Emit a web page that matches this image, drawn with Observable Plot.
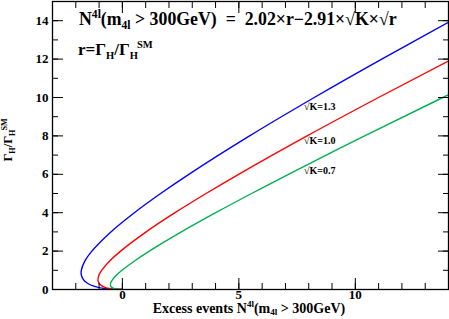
<!DOCTYPE html>
<html><head><meta charset="utf-8">
<script src="https://cdn.jsdelivr.net/npm/d3@7"></script>
<script src="https://cdn.jsdelivr.net/npm/@observablehq/plot@0.6"></script>
<style>
body{margin:0;background:#fff}
#chart{position:relative;width:449px;height:319px}
svg{display:block}
</style>
</head><body><div id="chart"></div>
<script>
// r = Gamma_H / Gamma_H^SM  (y) and excess events N (x)
const rValues   = [0, 0.01, 0.02, 0.03, 0.05, 0.1, 0.2, 0.3, 0.4, 0.5, 0.75, 1, 1.5, 2, 3, 4, 5, 6, 8, 10, 12, 14];
const nSqrtK13  = [0, -0.358, -0.495, -0.595, -0.745, -0.994, -1.288, -1.466, -1.585, -1.665, -1.761, -1.763, -1.603, -1.310, -0.493, 0.514, 1.641, 2.854, 5.460, 8.237, 11.135, 14.125];
const nSqrtK10  = [0, -0.271, -0.371, -0.443, -0.550, -0.718, -0.897, -0.988, -1.033, -1.048, -1.005, -0.890, -0.534, -0.075, 1.020, 2.260, 3.593, 4.992, 7.929, 10.998, 14.159, 17.392];
const nSqrtK07  = [0, -0.184, -0.248, -0.292, -0.354, -0.442, -0.507, -0.510, -0.480, -0.430, -0.249, -0.017, 0.535, 1.159, 2.532, 4.006, 5.545, 7.130, 10.399, 13.758, 17.184, 20.658];
const curveLabels = ["√K=1.3", "√K=1.0", "√K=0.7"];
const xMajorTicks = [0, 5, 10];
const xMinorTicks = [-3, -2, -1, 0, 1, 2, 3, 4, 5, 6, 7, 8, 9, 10, 11, 12, 13, 14];
const yMajorTicks = [0, 2, 4, 6, 8, 10, 12, 14];
const yMinorTicks = [0, 1, 2, 3, 4, 5, 6, 7, 8, 9, 10, 11, 12, 13, 14, 15];

const toRows = ns => rValues.map((r, i) => ({r, n: ns[i]}));
const FONT = "Liberation Serif";
const labelPos = [{x: 7.8, y: 9.33}, {x: 7.8, y: 7.56}, {x: 7.8, y: 6.01}];
const none = () => "";
const MINOR = 6, MAJOR = 11;

const plot = Plot.plot({
  width: 449, height: 319,
  marginLeft: 52, marginRight: 1, marginTop: 1, marginBottom: 30,
  style: {fontFamily: FONT, fontWeight: "bold", fontSize: "13px", background: "#fff"},
  x: {domain: [-3, 14]},
  y: {domain: [0, 15]},
  marks: [
    Plot.line(toRows(nSqrtK13), {x: "n", y: "r", stroke: "#0000ff", strokeWidth: 1.4, curve: "catmull-rom", clip: true}),
    Plot.line(toRows(nSqrtK10), {x: "n", y: "r", stroke: "#ff0000", strokeWidth: 1.4, curve: "catmull-rom", clip: true}),
    Plot.line(toRows(nSqrtK07), {x: "n", y: "r", stroke: "#00b050", strokeWidth: 1.4, curve: "catmull-rom", clip: true}),
    Plot.text(curveLabels, {x: (d, i) => labelPos[i].x, y: (d, i) => labelPos[i].y, text: d => d,
      textAnchor: "start", lineAnchor: "bottom", fontSize: 10, fontWeight: "bold"}),
    // inward ticks (shifted back inside the frame)
    Plot.axisX(xMinorTicks, {anchor: "bottom", tickSize: MINOR, dy: -MINOR, tickFormat: none, label: null}),
    Plot.axisX(xMajorTicks, {anchor: "bottom", tickSize: MAJOR, dy: -MAJOR, tickFormat: none, label: null}),
    Plot.axisX(xMinorTicks, {anchor: "top", tickSize: MINOR, dy: MINOR, tickFormat: none, label: null}),
    Plot.axisX(xMajorTicks, {anchor: "top", tickSize: MAJOR, dy: MAJOR, tickFormat: none, label: null}),
    Plot.axisY(yMinorTicks, {anchor: "left", tickSize: MINOR, dx: MINOR, tickFormat: none, label: null}),
    Plot.axisY(yMajorTicks, {anchor: "left", tickSize: MAJOR, dx: MAJOR, tickFormat: none, label: null}),
    Plot.axisY(yMinorTicks, {anchor: "right", tickSize: MINOR, dx: -MINOR, tickFormat: none, label: null}),
    Plot.axisY(yMajorTicks, {anchor: "right", tickSize: MAJOR, dx: -MAJOR, tickFormat: none, label: null}),
    // tick labels
    Plot.axisX(xMajorTicks, {anchor: "bottom", tickSize: 0, tickPadding: 0, label: null, fontSize: 13}),
    Plot.axisY(yMajorTicks, {anchor: "left", tickSize: 0, tickPadding: 4, label: null, fontSize: 13}),
    Plot.frame({strokeWidth: 1.3})
  ]
});
document.getElementById("chart").appendChild(plot);

// rich text (sub/superscripts) annotations
const svg = d3.select(plot);
function rich(x, y, parts, size, {anchor = "start", transform = null, ratio = 0.65, sub = 0.25, sup = 0.42} = {}) {
  const t = svg.append("text")
    .attr("x", x).attr("y", y)
    .attr("font-size", size).attr("font-family", FONT).attr("font-weight", "bold")
    .attr("text-anchor", anchor).style("white-space", "pre").attr("fill", "#000");
  if (transform) t.attr("transform", transform);
  let shift = 0;
  for (const [s, kind, dx] of parts) {
    const target = kind === "sup" ? -sup * size : kind === "sub" ? sub * size : 0;
    const ts = t.append("tspan").attr("dy", target - shift).text(s);
    if (kind) ts.attr("font-size", size * ratio);
    if (dx) ts.attr("dx", dx);
    shift = target;
  }
  return t;
}
rich(79, 25, [["N"], ["4l", "sup"], ["(m"], ["4l", "sub"], [" > 300GeV)  =  2.02×r−2.91×√K×√r"]], 17.8);
rich(78, 55, [["r=Γ"], ["H", "sub"], ["/Γ"], ["H", "sub"], ["SM", "sup", -1]], 17, {ratio: 0.62});
rich(249, 313, [["Excess events N"], ["4l", "sup"], ["(m"], ["4l", "sub"], [" > 300GeV)"]], 14, {anchor: "middle", sub: 0.15});
rich(0, 0, [["Γ"], ["H", "sub"], ["/Γ"], ["H", "sub"], ["SM", "sup", -1]], 12.5, {anchor: "middle", transform: "translate(12,140) rotate(-90)"});
</script>
</body></html>
